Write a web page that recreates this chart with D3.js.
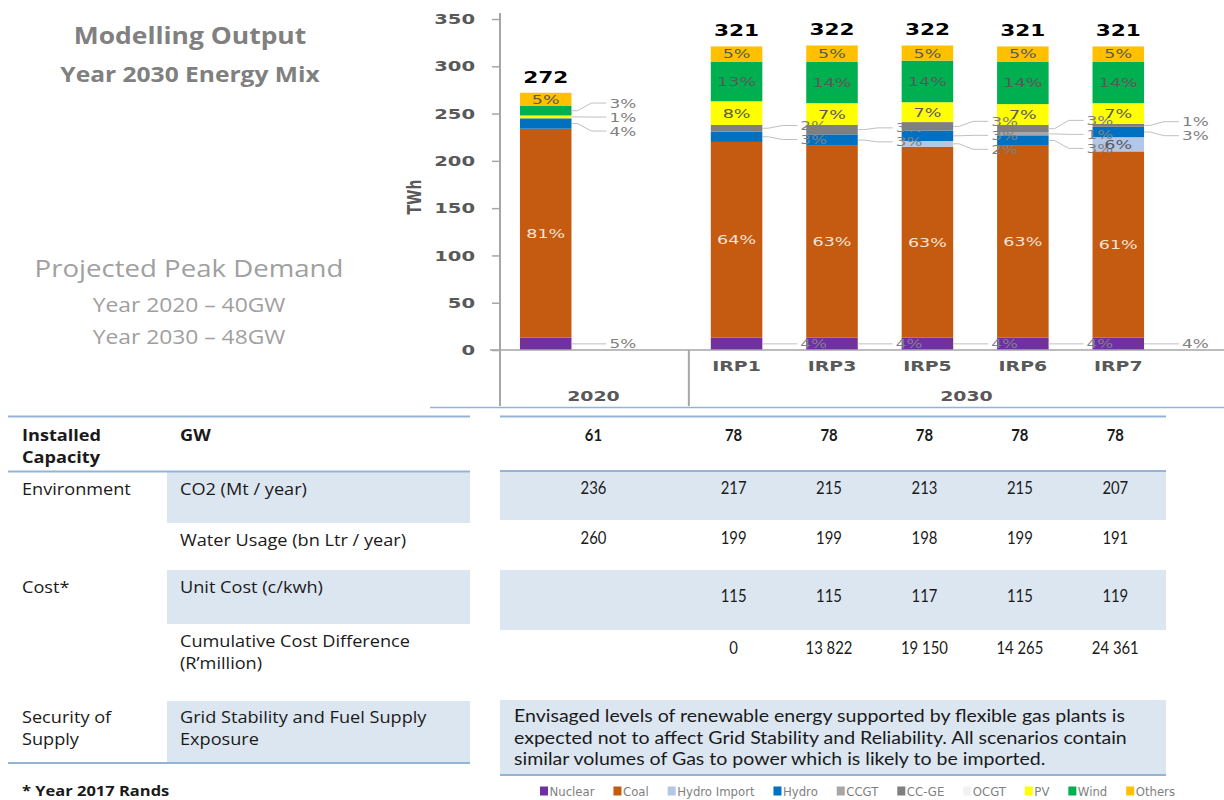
<!DOCTYPE html>
<html>
<head>
<meta charset="utf-8">
<script src="https://cdn.jsdelivr.net/npm/d3@7"></script>
<style>
body { margin: 0; background: #fff; }
svg { display: block; }
</style>
</head>
<body>
<div id="chart"></div>
<script>
// DATA (TWh)
const categories = ["2020", "IRP1", "IRP3", "IRP5", "IRP6", "IRP7"];
const groupOf = ["2020", "2030", "2030", "2030", "2030", "2030"];
const seriesNames = ["Nuclear", "Coal", "Hydro Import", "Hydro", "CCGT", "CC-GE", "OCGT", "PV", "Wind", "Others"];

const nuclear = [13, 13, 13, 13, 13, 13];
const coal = [221, 207, 203, 202, 203, 197];
const hydroImport = [0, 0, 0, 6, 0, 15];
const hydro = [11, 11, 12, 11, 11, 11];
const ccgt = [0, 0, 0, 0, 3, 0];
const ccge = [0, 7, 10, 9, 8, 3];
const ocgt = [0, 0, 0, 0, 0, 0];
const pv = [3, 25, 23, 21, 22, 22];
const wind = [10, 42, 44, 44, 45, 44];
const others = [14, 16, 17, 16, 16, 16];

// percentage labels as printed on the chart
const nuclearPct = ["5%", "4%", "4%", "4%", "4%", "4%"];
const coalPct = ["81%", "64%", "63%", "63%", "63%", "61%"];
const hydroImportPct = [null, null, null, "2%", null, "6%"];
const hydroPct = ["4%", "3%", "3%", "3%", "3%", "3%"];
const ccgtPct = [null, null, null, null, "1%", null];
const ccgePct = [null, "2%", "3%", "3%", "3%", "1%"];
const ocgtPct = [null, null, null, null, null, null];
const pvPct = ["1%", "8%", "7%", "7%", "7%", "7%"];
const windPct = ["3%", "13%", "14%", "14%", "14%", "14%"];
const othersPct = ["5%", "5%", "5%", "5%", "5%", "5%"];

const yTicks = [0, 50, 100, 150, 200, 250, 300, 350];

// table below the chart
const installedGW = [61, 78, 78, 78, 78, 78];
const co2 = [236, 217, 215, 213, 215, 207];
const water = [260, 199, 199, 198, 199, 191];
const unitCost = [null, 115, 115, 117, 115, 119];
const cumCost = [null, 0, 13822, 19150, 14265, 24361];
const securityText = [
	"Envisaged levels of renewable energy supported by flexible gas plants is",
	"expected not to affect Grid Stability and Reliability. All scenarios contain",
	"similar volumes of Gas to power which is likely to be imported."
];

const seriesValues = [nuclear, coal, hydroImport, hydro, ccgt, ccge, ocgt, pv, wind, others];
const seriesPct = [nuclearPct, coalPct, hydroImportPct, hydroPct, ccgtPct, ccgePct, ocgtPct, pvPct, windPct, othersPct];
const colors = ["#7030a0", "#c55a11", "#b4c7e7", "#0070c0", "#a6a6a6", "#7f7f7f", "#f2f2f2", "#ffff00", "#00b050", "#ffc000"];


// SETUP
const W = 1224, H = 800;
const SX = 1.35; // the pasted chart is stretched sideways
const chartFont = '"DejaVu Sans", Verdana, sans-serif';
const slideFont = '"Open Sans", "Noto Sans", sans-serif';
const bodyFont = 'Lato, "Open Sans", sans-serif';
const borderBlue = "#95b3d7";
const shade = "#dce6f1";

const svg = d3.select("#chart").append("svg")
	.attr("width", W)
	.attr("height", H);

const stretchText = (parent, x, y, str, sx = SX) => parent.append("text")
	.attr("transform", `translate(${x},${y}) scale(${sx},1)`)
	.text(str);

// rows for the stack
const rows = categories.map((c, i) => {
	const r = { cat: c };
	seriesNames.forEach((s, j) => r[s] = seriesValues[j][i]);
	return r;
});
const stacked = d3.stack().keys(seriesNames)(rows);
const totals = rows.map(r => d3.sum(seriesNames, s => r[s]));

// scales
const slots = ["2020", "_gap", "IRP1", "IRP3", "IRP5", "IRP6", "IRP7"];
const x = d3.scaleBand().domain(slots).range([498, 1166]).paddingInner(0.46).paddingOuter(0.23);
const y = d3.scaleLinear().domain([0, 350]).range([350, 19]);
const bw = x.bandwidth();
const halfGap = (x.step() - bw) / 2;


// LEFT TITLES
const titles = svg.append("g").attr("text-anchor", "middle").attr("font-family", slideFont);
stretchText(titles, 190, 44, "Modelling Output", 1.15).attr("font-size", 23).attr("font-weight", 700).attr("fill", "#808080");
stretchText(titles, 190, 82, "Year 2030 Energy Mix", 1.17).attr("font-size", 21).attr("font-weight", 700).attr("fill", "#808080");
stretchText(titles, 189, 277, "Projected Peak Demand", 1.15).attr("font-size", 24).attr("fill", "#a0a0a0");
stretchText(titles, 189, 312, "Year 2020 \u2013 40GW", 1.17).attr("font-size", 19.5).attr("fill", "#a0a0a0");
stretchText(titles, 189, 344, "Year 2030 \u2013 48GW", 1.17).attr("font-size", 19.5).attr("fill", "#a0a0a0");


// CHART
const chart = svg.append("g").attr("font-family", chartFont);

// bars
chart.selectAll("g.series")
	.data(stacked)
	.enter().append("g")
	.attr("class", "series")
	.attr("fill", (d, i) => colors[i])
	.selectAll("rect")
	.data(d => d)
	.enter().append("rect")
	.attr("x", d => x(d.data.cat))
	.attr("y", d => y(d[1]))
	.attr("width", bw)
	.attr("height", d => y(d[0]) - y(d[1]));

// y axis
const yAxis = d3.axisLeft(y).tickValues(yTicks).tickSize(8).tickSizeOuter(0).tickPadding(17);
const yG = chart.append("g")
	.attr("transform", "translate(500,0)")
	.call(yAxis);
yG.select(".domain").remove();
yG.selectAll(".tick line").attr("stroke", "#a6a6a6").attr("stroke-width", 1.5);
yG.selectAll(".tick text")
	.attr("x", -25 / SX)
	.attr("transform", `scale(${SX},1)`)
	.attr("font-size", 14.5)
	.attr("font-weight", 700)
	.attr("font-family", chartFont)
	.attr("fill", "#595959");

// axis lines
const axisColor = "#a6a6a6";
chart.append("line").attr("x1", 500).attr("x2", 500).attr("y1", 13).attr("y2", 406)
	.attr("stroke", axisColor).attr("stroke-width", 2);
chart.append("line").attr("x1", 490).attr("x2", W).attr("y1", y(0)).attr("y2", y(0))
	.attr("stroke", axisColor).attr("stroke-width", 1.5);

// group separators and labels
const groupNames = Array.from(new Set(groupOf));
groupNames.forEach((g, gi) => {
	const members = categories.filter((c, i) => groupOf[i] === g);
	const left = x(members[0]) - halfGap;
	const right = gi < groupNames.length - 1 ? x(categories[groupOf.indexOf(groupNames[gi + 1])]) - halfGap : W + 20;
	if (gi > 0) {
		chart.append("line").attr("x1", left).attr("x2", left).attr("y1", y(0)).attr("y2", 406)
			.attr("stroke", axisColor).attr("stroke-width", 2);
	}
	stretchText(chart, (left + right) / 2, 401, g)
		.attr("text-anchor", "middle")
		.attr("font-size", 14)
		.attr("font-weight", 700)
		.attr("fill", "#595959");
});

// sub-category labels
const xAxis = d3.axisBottom(x)
	.tickValues(categories.filter((c, i) => groupOf[i] !== c))
	.tickSize(0)
	.tickPadding(0);
const xG = chart.append("g")
	.attr("transform", `translate(0,${y(0)})`)
	.call(xAxis);
xG.select(".domain").remove();
xG.selectAll(".tick text")
	.attr("y", 21)
	.attr("dy", 0)
	.attr("transform", `scale(${SX},1)`)
	.attr("font-size", 14)
	.attr("font-weight", 700)
	.attr("font-family", chartFont)
	.attr("fill", "#595959");
xG.selectAll(".tick").each(function () {
	const t = d3.select(this);
	const tx = +t.attr("transform").match(/translate\(([-\d.]+)/)[1];
	t.attr("transform", `translate(${tx},0)`);
	t.select("text").attr("x", 0);
});

// TWh title
chart.append("text")
	.attr("transform", `translate(421,197) scale(${SX},1) rotate(-90)`)
	.attr("text-anchor", "middle")
	.attr("font-size", 14)
	.attr("font-weight", 700)
	.attr("fill", "#595959")
	.text("TWh");

// totals
categories.forEach((c, i) => {
	stretchText(chart, x(c) + bw / 2, y(totals[i]) - 10, totals[i])
		.attr("text-anchor", "middle")
		.attr("font-size", 16)
		.attr("font-weight", 700)
		.attr("fill", "#000");
});

// percentage labels
const INSIDE_MIN = 14;
categories.forEach((c, i) => {
	const bx = x(c);
	const right = bx + bw;
	const callouts = [];
	stacked.forEach((layer, j) => {
		const label = seriesPct[j][i];
		if (!label) return;
		const seg = layer[i];
		const mid = (y(seg[0]) + y(seg[1])) / 2;
		const v = seg[1] - seg[0];
		if (v >= INSIDE_MIN) {
			stretchText(chart, bx + bw / 2, mid + 4.5, label)
				.attr("text-anchor", "middle")
				.attr("font-size", 13)
				.attr("fill", seriesNames[j] === "Coal" ? "#f6e3d4" : "#595959");
		} else {
			callouts.push({ label, segY: mid, ly: mid, bottom: seriesNames[j] === "Nuclear" });
		}
	});
	// spread the upper callouts so they do not overlap
	const upper = callouts.filter(d => !d.bottom).sort((a, b) => a.segY - b.segY);
	const mean = d3.mean(upper, d => d.segY);
	for (let k = 1; k < upper.length; k++) {
		if (upper[k].ly < upper[k - 1].ly + 14) upper[k].ly = upper[k - 1].ly + 14;
	}
	if (upper.length) {
		const shift = mean - d3.mean(upper, d => d.ly);
		upper.forEach(d => d.ly += shift);
	}
	const labelX = right + 38;
	callouts.forEach(d => {
		chart.append("path")
			.attr("d", `M${right},${d.segY}L${right + 6},${d.segY}L${right + 20},${d.ly}L${labelX - 3},${d.ly}`)
			.attr("fill", "none")
			.attr("stroke", "#c0c0c0")
			.attr("stroke-width", 1);
		stretchText(chart, labelX, d.ly + 4.5, d.label)
			.attr("text-anchor", "start")
			.attr("font-size", 12.5)
			.attr("fill", "#808080");
	});
});

// chart frame bottom
svg.append("line").attr("x1", 430).attr("x2", W).attr("y1", 407.5).attr("y2", 407.5)
	.attr("stroke", borderBlue).attr("stroke-width", 1.5);


// TABLE
const table = svg.append("g");
const colX = categories.map((c, i) => i === 0
	? (x(c) - halfGap + x(categories[1]) - halfGap) / 2
	: x(c) + bw / 2 - 3);

// shaded cells
[[472, 523], [570, 624], [701, 762]].forEach(([a, b]) => {
	table.append("rect").attr("x", 167).attr("y", a).attr("width", 303).attr("height", b - a).attr("fill", shade);
});
[[472, 520], [570, 630], [700, 774]].forEach(([a, b]) => {
	table.append("rect").attr("x", 500).attr("y", a).attr("width", 666).attr("height", b - a).attr("fill", shade);
});

// borders
[[8, 470, 416.5], [8, 470, 471.5], [8, 470, 763], [500, 1166, 416.5], [500, 1166, 471], [500, 1166, 775]].forEach(([a, b, yy]) => {
	table.append("line").attr("x1", a).attr("x2", b).attr("y1", yy).attr("y2", yy)
		.attr("stroke", borderBlue).attr("stroke-width", 2);
});

// left labels
const leftText = (tx, ty, str, bold) => stretchText(table, tx, ty, str, 1.1)
	.attr("font-family", slideFont)
	.attr("font-size", 16.5)
	.attr("font-weight", bold ? 700 : 400)
	.attr("fill", "#1a1a1a");
leftText(22, 441, "Installed", true);
leftText(22, 463, "Capacity", true);
leftText(180, 441, "GW", true);
leftText(22, 495, "Environment");
leftText(180, 495, "CO2 (Mt / year)");
leftText(180, 546, "Water Usage (bn Ltr / year)");
leftText(22, 593, "Cost*");
leftText(180, 593, "Unit Cost (c/kwh)");
leftText(180, 647, "Cumulative Cost Difference");
leftText(180, 669, "(R\u2019million)");
leftText(22, 723, "Security of");
leftText(22, 745, "Supply");
leftText(180, 723, "Grid Stability and Fuel Supply");
leftText(180, 745, "Exposure");
leftText(22, 796, "* Year 2017 Rands", true).attr("font-size", 15);

// numbers
const fmt = d3.formatLocale({ decimal: ".", thousands: " ", grouping: [3], currency: ["", ""] }).format(",d");
const numberRow = (vals, ty, bold) => {
	vals.forEach((v, i) => {
		if (v === null) return;
		stretchText(table, colX[i], ty, fmt(v), 0.9)
			.attr("text-anchor", "middle")
			.attr("font-family", bodyFont)
			.attr("font-size", 16.5)
			.attr("font-weight", bold ? 700 : 400)
			.attr("fill", "#1a1a1a");
	});
};
numberRow(installedGW, 441, true);
numberRow(co2, 494, false);
numberRow(water, 544, false);
numberRow(unitCost, 602, false);
numberRow(cumCost, 654, false);

securityText.forEach((line, k) => {
	stretchText(table, 514, 722 + k * 21.5, line, 1.15)
		.attr("font-family", bodyFont)
		.attr("font-size", 17)
		.attr("fill", "#1a1a1a");
});


// LEGEND
const legend = svg.append("g")
	.attr("font-family", '"Liberation Sans Narrow", "DejaVu Sans Condensed", "Roboto Condensed", sans-serif')
	.attr("font-size", 13)
	.attr("fill", "#7f7f7f");
const items = seriesNames.map((s, i) => {
	const g = legend.append("g");
	g.append("rect").attr("x", 0).attr("y", -4.5).attr("width", 8).attr("height", 9).attr("fill", colors[i]);
	const t = g.append("text").attr("x", 9.5).attr("y", 4.5).text(s);
	return { g, w: 9.5 + t.node().getComputedTextLength() };
});
const legStart = 540, legEnd = 1175;
const gapW = (legEnd - legStart - d3.sum(items, d => d.w)) / (items.length - 1);
let lx = legStart;
items.forEach(d => {
	d.g.attr("transform", `translate(${lx},791)`);
	lx += d.w + gapW;
});
</script>
</body>
</html>
